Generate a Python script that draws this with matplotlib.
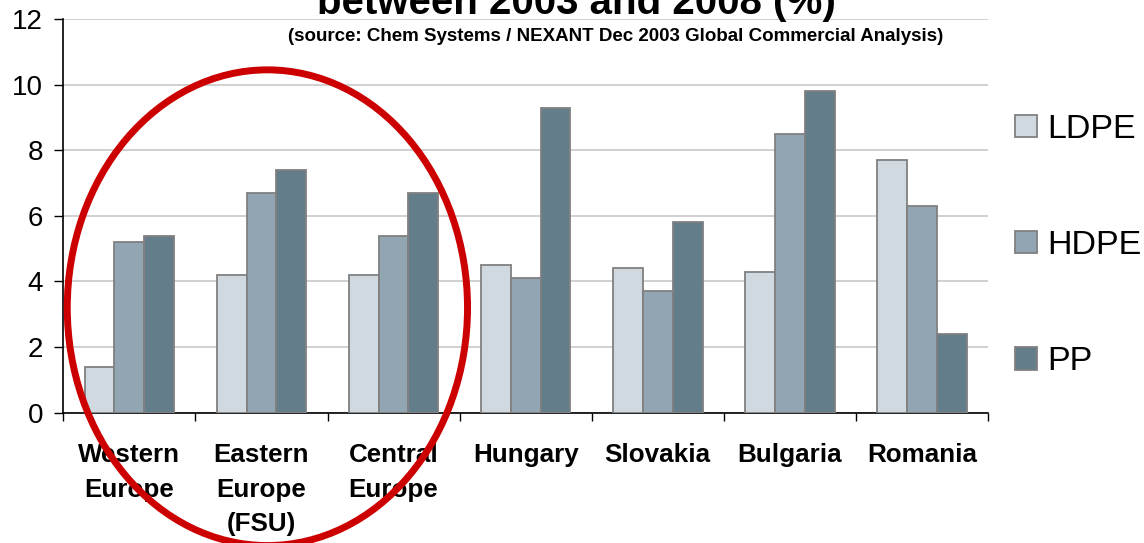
import matplotlib
matplotlib.use('Agg')
import matplotlib.pyplot as plt
import numpy as np
from matplotlib.patches import Ellipse, Patch

# data
categories = ['Western\nEurope', 'Eastern\nEurope\n(FSU)', 'Central\nEurope',
              'Hungary', 'Slovakia', 'Bulgaria', 'Romania']
ldpe = [1.4, 4.2, 4.2, 4.5, 4.4, 4.3, 7.7]
hdpe = [5.2, 6.7, 5.4, 4.1, 3.7, 8.5, 6.3]
pp = [5.4, 7.4, 6.7, 9.3, 5.8, 9.8, 2.4]
series_names = ['LDPE', 'HDPE', 'PP']
yticks = [0, 2, 4, 6, 8, 10, 12]

title = 'between 2003 and 2008 (%)'
subtitle = '(source: Chem Systems / NEXANT Dec 2003 Global Commercial Analysis)'

colors = ['#d0d9df', '#91a6b2', '#637d8b']
edge = '#808080'

plt.rcParams['font.family'] = ['Liberation Sans', 'DejaVu Sans']

W, H = 1144, 543
fig = plt.figure(figsize=(W / 100, H / 100), dpi=100)
ax = fig.add_axes([63.3 / W, 1 - 412.7 / H, 924.7 / W, 393.7 / H])

x = np.arange(len(categories))
w = 0.226
for i, vals in enumerate([ldpe, hdpe, pp]):
    ax.bar(x + (i - 1) * w, vals, w, color=colors[i], edgecolor=edge,
           linewidth=1.3, label=series_names[i], zorder=3)

ax.set_xlim(-0.5, len(categories) - 0.5)
ax.set_ylim(0, 12)
ax.set_yticks(yticks)
ax.yaxis.grid(True, color='#c8c8c8', linewidth=1.2)
ax.set_axisbelow(True)

for s in ['top', 'right']:
    ax.spines[s].set_visible(False)
for s in ['left', 'bottom']:
    ax.spines[s].set_color('black')
    ax.spines[s].set_linewidth(1.2)

ax.set_xticks(x)
ax.set_xticklabels(categories, fontsize=18.7, fontweight='bold', linespacing=1.55)
ax.set_xticks(np.arange(-0.5, len(categories), 1), minor=True)
ax.tick_params(axis='x', which='major', length=0, pad=22)
ax.tick_params(axis='x', which='minor', length=6, width=1, color='black')
ax.tick_params(axis='y', length=6.5, width=1, pad=8, labelsize=20)

# red ring around the first three regions
ring = Ellipse((1.045, 3.2), 3.03, 14.5, fill=False, edgecolor='#cc0000',
               linewidth=5, clip_on=False, zorder=5)
ax.add_patch(ring)

fig.text(576 / W, 1 - 14.5 / H, title, ha='center', va='baseline',
         fontsize=29, fontweight='bold')
fig.text(616 / W, 1 - 40.7 / H, subtitle, ha='center', va='baseline',
         fontsize=13.5, fontweight='bold')

handles = [Patch(facecolor=colors[i], edgecolor=edge, linewidth=1.3, label=series_names[i])
           for i in range(3)]
fig.legend(handles=handles, loc='upper left', bbox_to_anchor=(1015 / W, 1 - 114 / H),
           frameon=False, fontsize=24.5, handlelength=0.65, handleheight=0.65,
           handletextpad=0.3, labelspacing=2.5, borderpad=0, borderaxespad=0)

plt.savefig('out.png', dpi=100)
